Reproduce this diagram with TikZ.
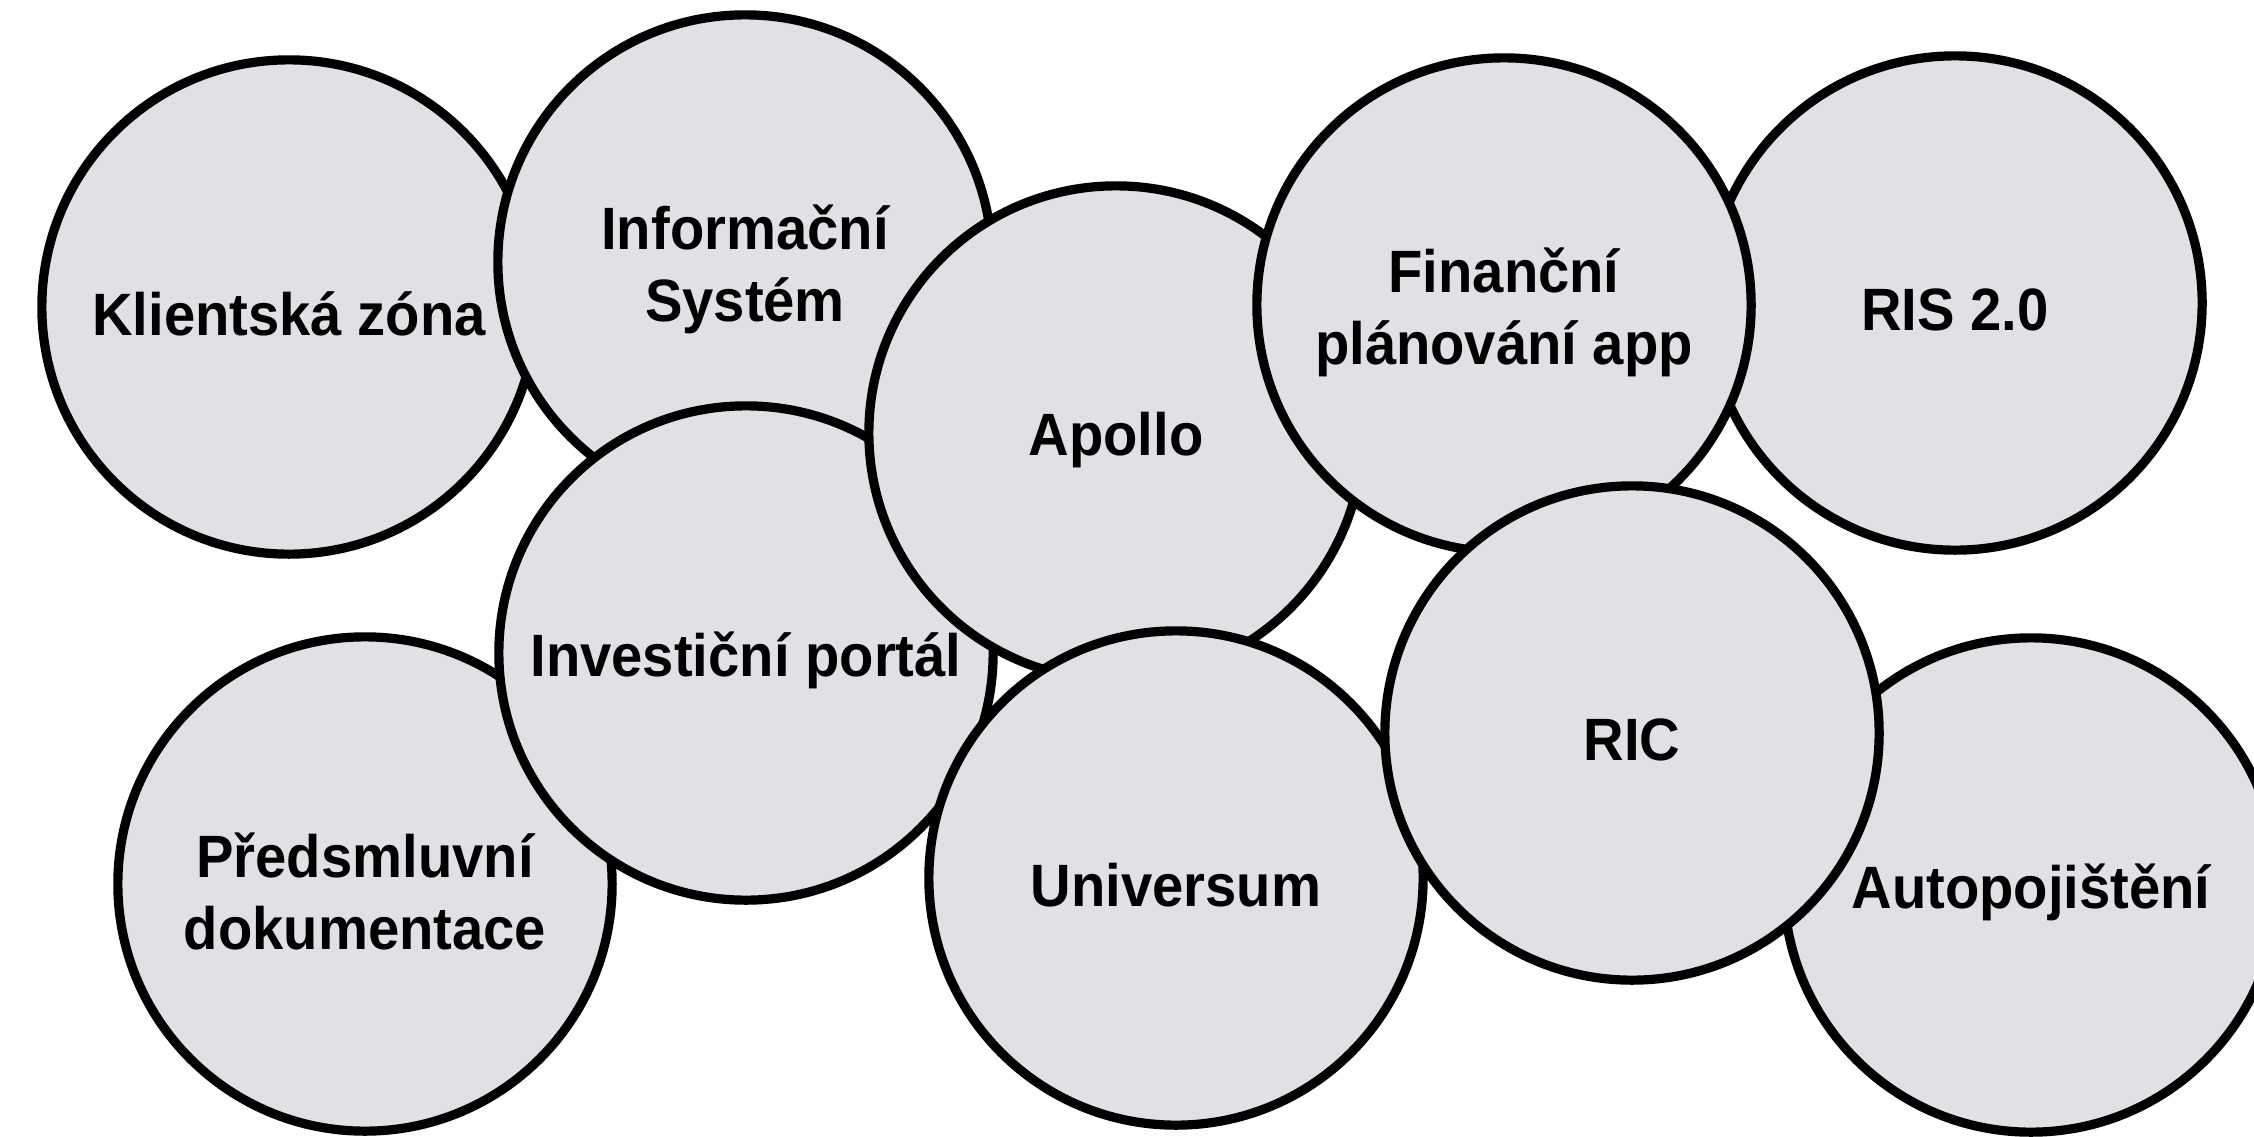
\documentclass[tikz,border=0pt]{standalone}
\usepackage{fontspec}
\setmainfont{Liberation Sans}
\newfontfamily\lblfont[FakeStretch=0.94]{Liberation Sans}
\definecolor{bubblefill}{RGB}{225,224,229}
\begin{document}
\begin{tikzpicture}[x=0.01cm,y=-0.01cm,
  bubble/.style={circle,draw=black,fill=bubblefill,line width=0.092cm,minimum size=4.94cm,inner sep=0pt},
  lbl/.style={font=\lblfont\bfseries\fontsize{17pt}{20.5pt}\selectfont,align=center,inner sep=0pt,yshift=-0.07cm}]
\fill[white] (0,0) rectangle (2254,1136);
\useasboundingbox (0,0) rectangle (2254,1136);
% circles, back to front
\node[bubble] (k) at (289,307) {};
\node[bubble] (i) at (745,262) {};
\node[bubble] (d) at (365,884) {};
\node[bubble] (p) at (746,653) {};
\node[bubble] (a) at (1116,433) {};
\node[bubble] (r) at (1955,303) {};
\node[bubble] (f) at (1504,305) {};
\node[bubble] (u) at (1176,878) {};
\node[bubble] (o) at (2031,885) {};
\node[bubble] (c) at (1632,733) {};
% labels
\node[lbl] (kt) at (k.center) {Klientská zóna};
\node[lbl] (it) at (i.center) {Informační\\Systém};
\node[lbl] (dt) at (d.center) {Předsmluvní\\dokumentace};
\node[lbl] (pt) at (p.center) {Investiční portál};
\node[lbl] (at) at (a.center) {Apollo};
\node[lbl] (rt) at (r.center) {RIS 2.0};
\node[lbl] (ft) at (f.center) {Finanční\\plánování app};
\node[lbl] (ut) at (u.center) {Universum};
\node[lbl] (ot) at (o.center) {Autopojištění};
\node[lbl] (ct) at (c.center) {RIC};
\end{tikzpicture}
\end{document}
